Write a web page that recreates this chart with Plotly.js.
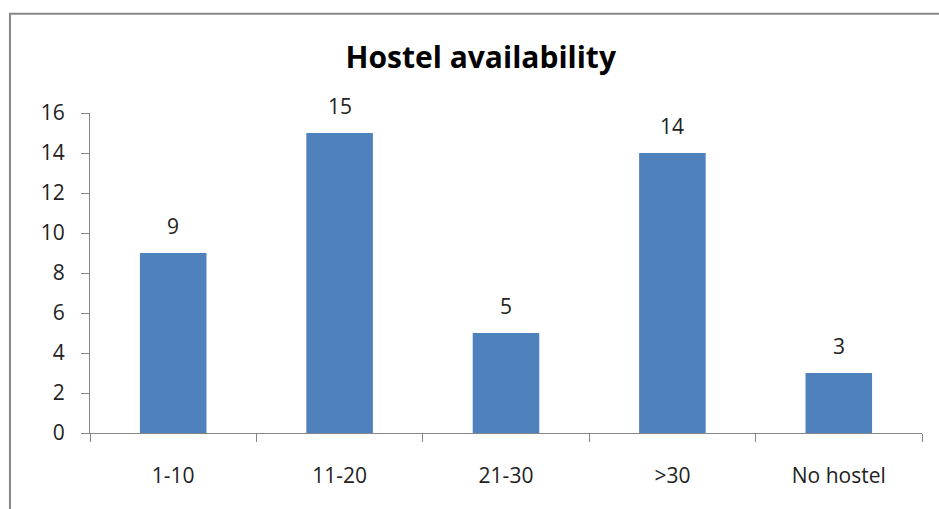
<!DOCTYPE html>
<html>
<head>
<meta charset="utf-8">
<script src="https://cdn.plot.ly/plotly-3.0.1.min.js"></script>
<style>html,body{margin:0;padding:0;background:#fff;}#chart{width:939px;height:509px;}</style>
</head>
<body>
<div id="chart"></div>
<script>
const categories = ["1-10", "11-20", "21-30", ">30", "No hostel"];
const counts = [9, 15, 5, 14, 3];
const yTicks = [0, 2, 4, 6, 8, 10, 12, 14, 16];

const fontFam = "'Open Sans', Lato, sans-serif";
const axisColor = "#868686";

const trace = {
  type: "bar",
  x: categories,
  y: counts,
  marker: {color: "#4F81BD"},
  hoverinfo: "none"
};

const annotations = categories.map((c, i) => ({
  x: c, y: counts[i], xref: "x", yref: "y",
  text: String(counts[i]),
  showarrow: false, yanchor: "bottom", yshift: 11,
  font: {family: fontFam, size: 21, color: "#222"}
}));

const layout = {
  width: 939, height: 509,
  margin: {l: 90, r: 17, t: 113, b: 76},
  paper_bgcolor: "#fff", plot_bgcolor: "#fff",
  showlegend: false,
  bargap: 0.6,
  title: {
    text: "<b>Hostel availability</b>",
    x: 0.512, xanchor: "center", y: 0.888, yanchor: "middle",
    font: {family: fontFam, size: 30, color: "#000"}
  },
  xaxis: {
    type: "category",
    showline: true, linecolor: axisColor, linewidth: 1,
    ticks: "outside", tickson: "boundaries", ticklen: 8, tickcolor: axisColor,
    showgrid: false, zeroline: false,
    ticklabelstandoff: 24,
    tickfont: {family: fontFam, size: 21, color: "#222"}
  },
  yaxis: {
    range: [0, 16], tickvals: yTicks, ticktext: yTicks.map(String),
    showline: true, linecolor: axisColor, linewidth: 1,
    ticks: "outside", ticklen: 8, tickcolor: axisColor,
    showgrid: false, zeroline: false,
    ticklabelstandoff: 12,
    tickfont: {family: fontFam, size: 21, color: "#222"}
  },
  annotations: annotations,
  shapes: [{
    type: "rect", xref: "paper", yref: "paper",
    x0: -0.0962, x1: 1.1, y0: -0.4, y1: 1.31,
    line: {color: "#888", width: 2}, layer: "below"
  }]
};

Plotly.newPlot("chart", [trace], layout, {displayModeBar: false, staticPlot: true});
</script>
</body>
</html>
